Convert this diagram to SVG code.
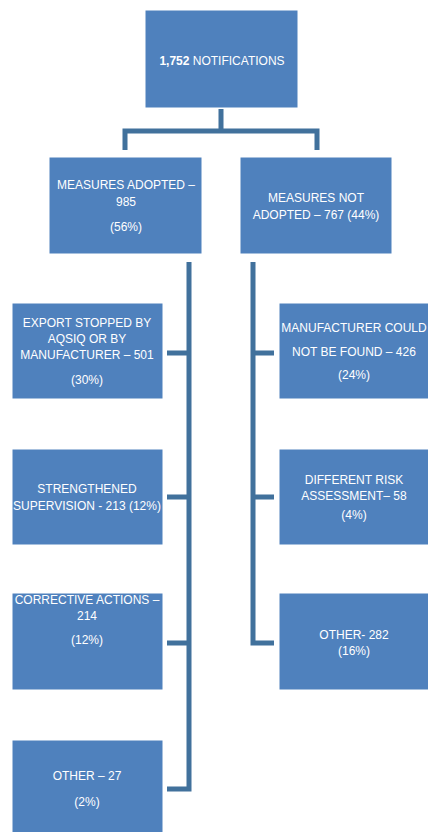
<svg xmlns="http://www.w3.org/2000/svg" width="428" height="832" viewBox="0 0 428 832">
<style>
.box{fill:#4F81BD;stroke:#ffffff;stroke-width:1}
.t{font-family:"Liberation Sans",Arial,sans-serif;font-size:12px;fill:#ffffff;text-anchor:middle}
.c{fill:none;stroke:#41719C;stroke-width:5}
</style>
<rect width="428" height="832" fill="#ffffff"/>
<g id="connectors">
<path class="c" d="M221 109 V131 M125 150 V131 H317 V150"/>
<path class="c" d="M189 262 V789 H167 M167 353 H189 M167 497 H189 M167 643 H189"/>
<path class="c" d="M253 262 V643 H274 M253 353 H274 M253 497 H274"/>
</g>
<g id="n0">
<rect class="box" x="145" y="10" width="153" height="98"/>
<text class="t" x="222" y="65"><tspan font-weight="bold">1,752</tspan> NOTIFICATIONS</text>
</g>
<g id="n1">
<rect class="box" x="49" y="157" width="153" height="97"/>
<text class="t" x="126" y="189">MEASURES ADOPTED –</text>
<text class="t" x="126" y="206">985</text>
<text class="t" x="126" y="231">(56%)</text>
</g>
<g id="n2">
<rect class="box" x="240" y="157" width="152" height="97"/>
<text class="t" x="316" y="202">MEASURES NOT</text>
<text class="t" x="316" y="219">ADOPTED – 767 (44%)</text>
</g>
<g id="n3">
<rect class="box" x="12" y="303" width="151" height="96"/>
<text class="t" x="87" y="327">EXPORT STOPPED BY</text>
<text class="t" x="87" y="343">AQSIQ OR BY</text>
<text class="t" x="87" y="359">MANUFACTURER  – 501</text>
<text class="t" x="87" y="384">(30%)</text>
</g>
<g id="n4">
<rect class="box" x="12" y="449" width="151" height="96"/>
<text class="t" x="87" y="493">STRENGTHENED</text>
<text class="t" x="87" y="510">SUPERVISION - 213 (12%)</text>
</g>
<g id="n5">
<rect class="box" x="12" y="593" width="151" height="97"/>
<text class="t" x="87" y="604">CORRECTIVE ACTIONS –</text>
<text class="t" x="87" y="620">214</text>
<text class="t" x="87" y="644">(12%)</text>
</g>
<g id="n6">
<rect class="box" x="12" y="740" width="151" height="100"/>
<text class="t" x="87" y="780">OTHER – 27</text>
<text class="t" x="87" y="806">(2%)</text>
</g>
<g id="n7">
<rect class="box" x="279" y="303" width="152" height="96"/>
<text class="t" x="354" y="332">MANUFACTURER  COULD</text>
<text class="t" x="354" y="356">NOT BE FOUND – 426</text>
<text class="t" x="354" y="379">(24%)</text>
</g>
<g id="n8">
<rect class="box" x="279" y="449" width="152" height="96"/>
<text class="t" x="354" y="484">DIFFERENT RISK</text>
<text class="t" x="354" y="500">ASSESSMENT– 58</text>
<text class="t" x="354" y="519">(4%)</text>
</g>
<g id="n9">
<rect class="box" x="279" y="593" width="152" height="97"/>
<text class="t" x="354" y="639">OTHER- 282</text>
<text class="t" x="354" y="655">(16%)</text>
</g>
</svg>
